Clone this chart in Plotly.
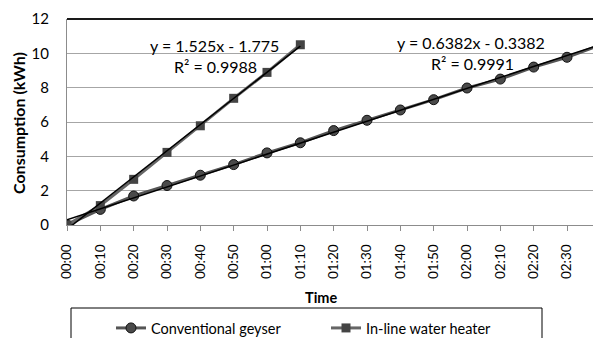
import plotly.graph_objects as go

times = ["00:00", "00:10", "00:20", "00:30", "00:40", "00:50", "01:00", "01:10",
         "01:20", "01:30", "01:40", "01:50", "02:00", "02:10", "02:20", "02:30", "02:40"]
geyser = [0, 0.91, 1.69, 2.3, 2.9, 3.52, 4.2, 4.79, 5.5, 6.1, 6.7, 7.3, 7.98, 8.5, 9.2, 9.77, 10.48]
inline = [0, 1.13, 2.66, 4.23, 5.78, 7.38, 8.89, 10.5]

# trend-line coefficients (Excel x index starts at 1)
geyser_fit = (0.6382, -0.3382)
inline_fit = (1.525, -1.775)

xg = list(range(len(geyser)))
xi = list(range(len(inline)))
geyser_trend = [geyser_fit[0] * (i + 1) + geyser_fit[1] for i in xg]
inline_trend = [inline_fit[0] * (i + 1) + inline_fit[1] for i in xi]

FONT = "Lato"
OFF = 8  # page body margin
W, H = 601 - OFF, 338 - OFF
# target plot area in screen pixels: x 67..601, y 19..225
ML = 67 - OFF
MT = 19 - OFF
MR = 0
MB = H - (225 - OFF)

fig = go.Figure()
fig.add_trace(go.Scatter(
    x=xg, y=geyser, mode="lines+markers", name="Conventional geyser",
    line=dict(color="#555555", width=3),
    marker=dict(symbol="circle", size=10, color="#4a4a4a", line=dict(color="#111111", width=1)),
))
fig.add_trace(go.Scatter(
    x=xi, y=inline, mode="lines+markers", name="In-line water heater",
    line=dict(color="#666666", width=3),
    marker=dict(symbol="square", size=9, color="#444444", line=dict(color="#444444", width=0)),
))
fig.add_trace(go.Scatter(
    x=xg, y=geyser_trend, mode="lines", showlegend=False,
    line=dict(color="#000000", width=1.5), hoverinfo="skip",
))
fig.add_trace(go.Scatter(
    x=xi, y=inline_trend, mode="lines", showlegend=False,
    line=dict(color="#000000", width=1.5), hoverinfo="skip",
))

pw = W - ML - MR
ph = H - MT - MB

def px_x(px):
    return (px - OFF - ML) / pw

def px_y(py):
    return (H - MB - (py - OFF)) / ph

annotations = [
    dict(text="y = 1.525x - 1.775", x=px_x(214), y=px_y(45)),
    dict(text="R² = 0.9988", x=px_x(215), y=px_y(66)),
    dict(text="y = 0.6382x - 0.3382", x=px_x(471), y=px_y(43)),
    dict(text="R² = 0.9991", x=px_x(472), y=px_y(63)),
]
ann = []
for a in annotations:
    ann.append(dict(xref="paper", yref="paper", showarrow=False, xanchor="center", yanchor="middle",
                    font=dict(family=FONT, size=16, color="#000000"), **a))
ann.append(dict(text="<b>Time</b>", xref="paper", yref="paper", x=px_x(321), y=px_y(297),
                showarrow=False, xanchor="center", yanchor="middle",
                font=dict(family=FONT, size=14.5, color="#000000")))
ann.append(dict(text="<b>Consumption (kWh)</b>", xref="paper", yref="paper", x=px_x(18), y=px_y(123),
                showarrow=False, xanchor="center", yanchor="middle", textangle=-90,
                font=dict(family=FONT, size=16, color="#000000")))

shapes = [
    dict(type="line", xref="paper", yref="paper", x0=0, x1=1, y0=1, y1=1,
         line=dict(color="#1a1a1a", width=2)),
    dict(type="rect", xref="paper", yref="paper", x0=px_x(71), x1=px_x(542), y0=px_y(308), y1=px_y(350),
         line=dict(color="#000000", width=1), fillcolor="rgba(0,0,0,0)"),
]

fig.update_layout(
    width=W, height=H,
    margin=dict(l=ML, r=MR, t=MT, b=MB, pad=0, autoexpand=False),
    paper_bgcolor="white", plot_bgcolor="white",
    font=dict(family=FONT, size=14, color="#000000"),
    xaxis=dict(
        range=[0, 16.02], showgrid=False, automargin=False,
        tickmode="array", tickvals=xg, ticktext=times,
        showline=True, linecolor="#8c8c8c", linewidth=1,
        ticks="outside", ticklen=5, tickcolor="#8c8c8c",
        tickangle=-90, tickfont=dict(family=FONT, size=13.5, color="#000000"),
        zeroline=False, ticklabelstandoff=8, ticklabeloverflow="allow",
    ),
    yaxis=dict(
        range=[0, 12], dtick=2, showgrid=True, gridcolor="#a6a6a6", gridwidth=1,
        showline=True, linecolor="#8c8c8c", linewidth=1, automargin=False,
        ticks="", tickfont=dict(family=FONT, size=15, color="#000000"),
        zeroline=False, ticklabelstandoff=14,
    ),
    showlegend=True,
    legend=dict(
        orientation="h", x=px_x(111), y=px_y(312), xanchor="left", yanchor="top",
        font=dict(family=FONT, size=14.5, color="#000000"),
        bgcolor="rgba(0,0,0,0)", borderwidth=0,
        entrywidth=170, entrywidthmode="pixels",
    ),
    annotations=ann,
    shapes=shapes,
)

fig.write_html("out.html")
